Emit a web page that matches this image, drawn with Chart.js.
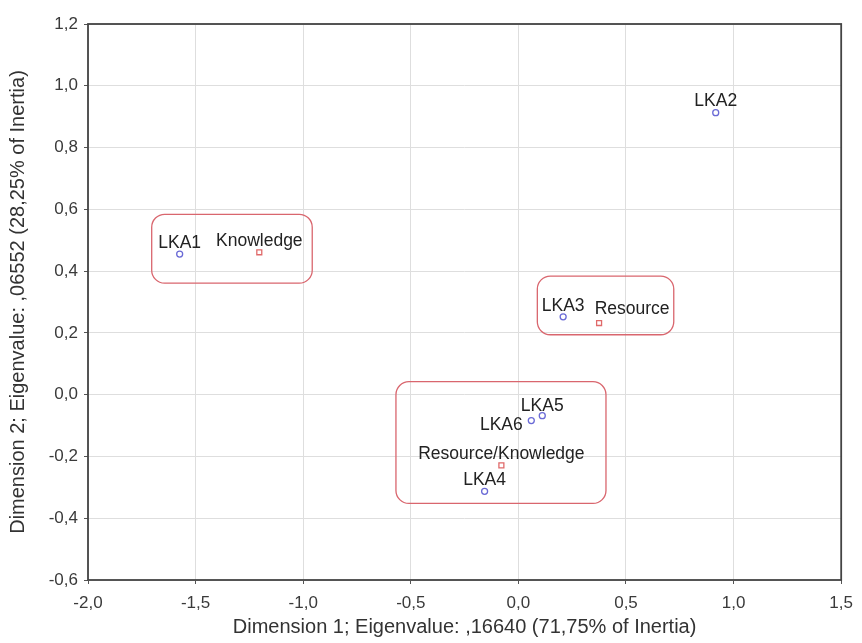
<!DOCTYPE html>
<html>
<head>
<meta charset="utf-8">
<script src="https://cdn.jsdelivr.net/npm/chart.js@4"></script>
<style>
  html, body { margin: 0; padding: 0; background: #fff; }
  #wrap { width: 862px; height: 643px; }
</style>
</head>
<body>
<div id="wrap"><canvas id="chart"></canvas></div>
<script>
// row points (LKA) and column points (category)
const rowNames = ['LKA1', 'LKA2', 'LKA3', 'LKA4', 'LKA5', 'LKA6'];
const rowX = [-1.574, 0.917, 0.208, -0.157, 0.111, 0.060];
const rowY = [0.455, 0.913, 0.252, -0.313, -0.068, -0.084];

const colNames = ['Knowledge', 'Resource', 'Resource/Knowledge'];
const colX = [-1.204, 0.375, -0.079];
const colY = [0.461, 0.232, -0.229];

// grouping boxes in data units: [xMin, xMax, yMin, yMax]
const boxes = [
  [-1.704, -0.958, 0.361, 0.584],
  [0.088, 0.722, 0.194, 0.384],
  [-0.569, 0.407, -0.352, 0.042]
];

const xTitle = 'Dimension 1; Eigenvalue: ,16640 (71,75% of Inertia)';
const yTitle = 'Dimension 2; Eigenvalue: ,06552 (28,25% of Inertia)';

// label placement (pixels, relative to the point)
const labelShift = {
  'Resource': [33, -14],
  'LKA6': [-30, 5],
  'LKA5': [0, -9]
};

const FONT = '"Liberation Sans", Arial, sans-serif';

function fmt(v) {
  return Number(v).toFixed(1).replace('.', ',');
}

const framePlugin = {
  id: 'frame',
  beforeDatasetsDraw(chart) {
    const { ctx, scales } = chart;
    const x = scales.x, y = scales.y;
    ctx.save();
    ctx.strokeStyle = '#d9666e';
    ctx.lineWidth = 1.3;
    boxes.forEach(b => {
      const l = x.getPixelForValue(b[0]);
      const r = x.getPixelForValue(b[1]);
      const t = y.getPixelForValue(b[3]);
      const bt = y.getPixelForValue(b[2]);
      ctx.beginPath();
      ctx.roundRect(l, t, r - l, bt - t, 13);
      ctx.stroke();
    });
    ctx.restore();
  },
  afterDatasetsDraw(chart) {
    const { ctx, chartArea: a } = chart;
    ctx.save();
    ctx.strokeStyle = '#444';
    ctx.lineWidth = 1.8;
    ctx.strokeRect(a.left, a.top, a.right - a.left, a.bottom - a.top);

    // point labels
    ctx.font = '17.5px ' + FONT;
    ctx.fillStyle = '#222';
    ctx.textAlign = 'center';
    ctx.textBaseline = 'middle';
    chart.data.datasets.forEach((ds, i) => {
      const meta = chart.getDatasetMeta(i);
      meta.data.forEach((pt, j) => {
        const name = ds.names[j];
        const s = labelShift[name] || [0, -11];
        ctx.fillText(name, pt.x + s[0], pt.y + s[1]);
      });
    });
    ctx.restore();
  }
};

new Chart(document.getElementById('chart'), {
  type: 'scatter',
  data: {
    datasets: [
      {
        names: rowNames,
        data: rowX.map((v, i) => ({ x: v, y: rowY[i] })),
        pointStyle: 'circle',
        pointRadius: 3,
        borderColor: '#6a6ad6',
        backgroundColor: 'rgba(255,255,255,0)',
        borderWidth: 1.3
      },
      {
        names: colNames,
        data: colX.map((v, i) => ({ x: v, y: colY[i] })),
        pointStyle: 'rect',
        pointRadius: 3.5,
        borderColor: '#e06a6a',
        backgroundColor: 'rgba(255,255,255,0)',
        borderWidth: 1.3
      }
    ]
  },
  options: {
    responsive: true,
    maintainAspectRatio: false,
    animation: false,
    layout: { padding: { top: 24, right: 17, left: 0, bottom: 0 } },
    plugins: {
      legend: { display: false },
      tooltip: { enabled: false }
    },
    scales: {
      x: {
        min: -2,
        max: 1.5,
        afterFit(s) { s.height = 63; },
        ticks: {
          stepSize: 0.5,
          color: '#3a3a3a',
          font: { family: FONT, size: 17 },
          padding: 9,
          callback: v => fmt(v)
        },
        grid: { color: '#dedede', tickLength: 4, tickColor: '#555' },
        border: { display: false },
        title: {
          display: true,
          text: xTitle,
          color: '#333',
          font: { family: FONT, size: 20 },
          padding: { top: 2, bottom: 4 }
        }
      },
      y: {
        min: -0.6,
        max: 1.2,
        afterFit(s) { s.width = 88; },
        ticks: {
          stepSize: 0.2,
          color: '#3a3a3a',
          font: { family: FONT, size: 17 },
          padding: 6,
          callback: v => fmt(v)
        },
        grid: { color: '#dedede', tickLength: 4, tickColor: '#555' },
        border: { display: false },
        title: {
          display: true,
          text: yTitle,
          color: '#333',
          font: { family: FONT, size: 20 },
          padding: { top: 6, bottom: 2 }
        }
      }
    }
  },
  plugins: [framePlugin]
});
</script>
</body>
</html>
